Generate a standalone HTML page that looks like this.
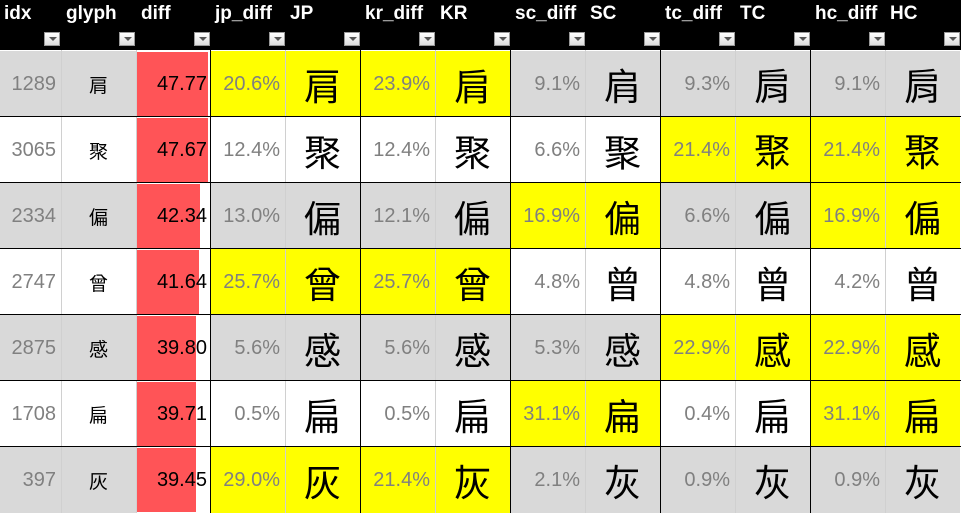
<!DOCTYPE html>
<html><head><meta charset="utf-8">
<style>
body{margin:0;width:961px;height:513px;overflow:hidden;background:#fff;font-family:"Liberation Sans",Arial,sans-serif;position:relative}
.h{position:absolute;top:0;left:0;width:961px;height:50px;background:#000}
.ht{position:absolute;top:3px;color:#fff;font-weight:bold;font-size:19px}
.fb{position:absolute;top:32px;width:16px;height:14px;background:linear-gradient(#fff,#ddd);border:1px solid #999;box-sizing:border-box}
.fb:after{content:"";position:absolute;left:4px;top:4px;border-left:4px solid transparent;border-right:4px solid transparent;border-top:4px solid #555}
.c{position:absolute;box-sizing:border-box;display:flex;align-items:center}
.n{color:#808080;font-size:20px;justify-content:flex-end;padding-right:5px}
.g{font-size:37px;justify-content:center;color:#000}
.vl{position:absolute;top:50px;height:463px;width:1px;background:#000}
.vg{position:absolute;top:50px;height:463px;width:1px;background:#d0d0d0}
.hl{position:absolute;left:0;width:961px;height:1px;background:#000}
</style></head><body>
<div class="h"></div>
<div id="root"></div>
<script>
const idxs=[1289,3065,2334,2747,2875,1708,397];
const glyphs=["肩","聚","偏","曾","感","扁","灰"];
const diffs=[47.77,47.67,42.34,41.64,39.80,39.71,39.45];
const jp=["20.6%","12.4%","13.0%","25.7%","5.6%","0.5%","29.0%"];
const kr=["23.9%","12.4%","12.1%","25.7%","5.6%","0.5%","21.4%"];
const sc=["9.1%","6.6%","16.9%","4.8%","5.3%","31.1%","2.1%"];
const tc=["9.3%","21.4%","6.6%","4.8%","22.9%","0.4%","0.9%"];
const hc=["9.1%","21.4%","16.9%","4.2%","22.9%","31.1%","0.9%"];
const hiJP=[1,0,0,1,0,0,1],hiKR=[1,0,0,1,0,0,1],hiSC=[0,0,1,0,0,1,0],hiTC=[0,1,0,0,1,0,0],hiHC=[0,1,1,0,1,1,0];
const R=document.getElementById('root');
function el(cls,x,y,w,h,txt,bg,ff){const d=document.createElement('div');d.className=cls;d.style.left=x+'px';d.style.top=y+'px';d.style.width=w+'px';d.style.height=h+'px';if(bg)d.style.background=bg;if(ff)d.style.fontFamily=ff;if(txt!==undefined)d.textContent=txt;R.appendChild(d);return d;}
const heads=[["idx",4],["glyph",66],["diff",141],["jp_diff",215],["JP",290],["kr_diff",365],["KR",440],["sc_diff",515],["SC",590],["tc_diff",665],["TC",740],["hc_diff",815],["HC",890]];
const btnX=[44,119,194,269,344,419,494,569,644,719,794,869,944];
heads.forEach((h,i)=>{const d=el('ht',h[1],3,80,24,h[0]);


const b=el('fb',btnX[i],32,16,14);

});
const langs=[["jp",jp,hiJP,'"Noto Sans CJK JP"'],["kr",kr,hiKR,'"Noto Sans CJK KR"'],["sc",sc,hiSC,'"Noto Sans CJK SC"'],["tc",tc,hiTC,'"Noto Sans CJK TC"'],["hc",hc,hiHC,'"Noto Sans CJK TC"']];
const RH=66,Y0=51;
for(let r=0;r<7;r++){
 const y=Y0+r*RH;const base=r%2==0?'#d9d9d9':'#fff';
 let d=el('c n',0,y,61,RH,idxs[r],base);
 d=el('c',61,y,75,RH,glyphs[r],base,'"Liberation Sans","Noto Sans CJK JP",sans-serif');d.style.justifyContent='center';d.style.fontSize='19px';
 
 d=el('c',137,y+1,diffs[r]*1.487,RH-2,'', '#ff5457');
 d=el('c n',136,y,74,RH,diffs[r].toFixed(2));d.style.color='#000';d.style.paddingRight='3px';
 
 langs.forEach((L,i)=>{const x=210+i*150;const bg=L[2][r]?'#ffff00':base;
  let a=el('c n',x,y,75,RH,L[1][r],bg);
  let b=el('c g',x+75,y,75,RH,glyphs[r],bg,L[3]+',sans-serif');});
}
[61,136,285,435,585,735,885].forEach(x=>{const v=el('vg',x,50,1,463);});
[210,360,510,660,810].forEach(x=>{const v=el('vl',x,50,1,463);});
for(let r=1;r<7;r++){const l=el('hl',0,Y0+r*RH-1,961,1);}
</script>
</body></html>
